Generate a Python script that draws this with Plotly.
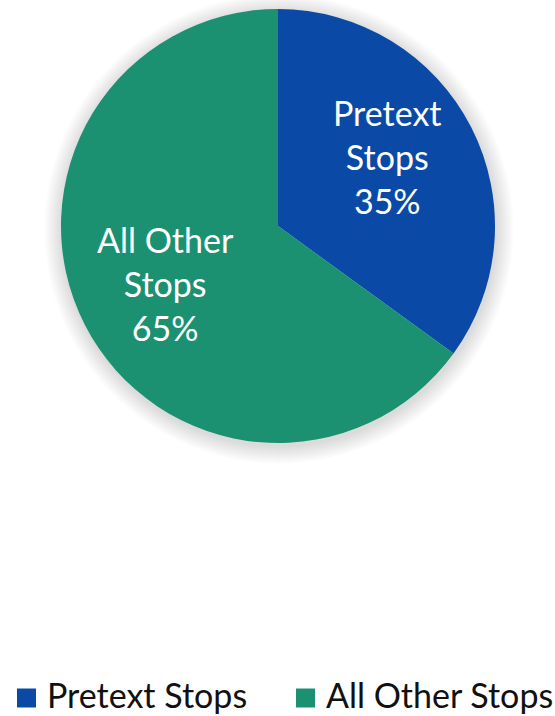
import math
import plotly.graph_objects as go

labels = ["Pretext Stops", "All Other Stops"]
values = [35, 65]
slice_names = ["Pretext<br>Stops", "All Other<br>Stops"]
colors = ["#0A4AA6", "#1C9171"]

W, H = 555, 716
cx, cy, r = 278, 226, 217
FONT = "Lato"

fig = go.Figure(
    go.Pie(
        labels=labels,
        values=values,
        textinfo="none",
        marker=dict(colors=colors, line=dict(width=0)),
        sort=False,
        direction="clockwise",
        rotation=0,
        hoverinfo="label+percent",
        showlegend=False,
        domain=dict(x=[(cx - r) / W, (cx + r) / W], y=[1 - (cy + r) / H, 1 - (cy - r) / H]),
    )
)

# soft drop shadow behind the pie
shapes = []
for i in range(18):
    rr = r + 1 + i
    ox, oy = 1, 3
    shapes.append(dict(
        type="circle", xref="paper", yref="paper", layer="below",
        x0=(cx + ox - rr) / W, x1=(cx + ox + rr) / W,
        y0=1 - (cy + oy + rr) / H, y1=1 - (cy + oy - rr) / H,
        fillcolor="rgba(0,0,0,0.009)", line=dict(width=0),
    ))

annotations = []
# slice labels at the middle angle of each slice
total = sum(values)
label_nudge = [(-3, -12), (0, 0)]
cum = 0
for name, v, (nx, ny) in zip(slice_names, values, label_nudge):
    mid = (cum + v / 2) / total * 2 * math.pi
    cum += v
    px = cx + 0.58 * r * math.sin(mid) + nx
    py = cy - 0.58 * r * math.cos(mid) + ny
    pct = round(v / total * 100)
    annotations.append(dict(
        x=px / W, y=1 - py / H, xref="paper", yref="paper",
        text=f"{name}<br>{pct}%", showarrow=False,
        xanchor="center", yanchor="middle", align="center",
        font=dict(family=FONT, size=34, color="white"),
    ))

# legend drawn as swatches and text
legend_x = [17, 296]
sq = 19
sq_cy = 698
text_cy = 694
for lab, col, lx in zip(labels, colors, legend_x):
    shapes.append(dict(
        type="rect", xref="paper", yref="paper",
        x0=lx / W, x1=(lx + sq) / W,
        y0=1 - (sq_cy + sq / 2) / H, y1=1 - (sq_cy - sq / 2) / H,
        fillcolor=col, line=dict(width=0),
    ))
    annotations.append(dict(
        x=(lx + sq + 9) / W, y=1 - text_cy / H, xref="paper", yref="paper",
        text=lab, showarrow=False, xanchor="left", yanchor="middle",
        font=dict(family=FONT, size=34, color="#111111"),
    ))

fig.update_layout(
    width=W,
    height=H,
    margin=dict(l=0, r=0, t=0, b=0),
    paper_bgcolor="white",
    plot_bgcolor="white",
    shapes=shapes,
    annotations=annotations,
)

fig.write_html("out.html")
